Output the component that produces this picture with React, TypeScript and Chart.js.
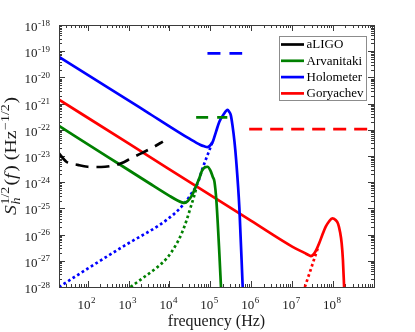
import React, { useEffect, useRef } from "react";
import { Chart, registerables } from "chart.js";

Chart.register(...registerables);

const FONT = "'Liberation Serif', 'Times New Roman', serif";

// ---------- data ----------
const seriesNames = ["aLIGO", "Arvanitaki", "Holometer", "Goryachev"];
const seriesColors = ["#000000", "#008000", "#0000ff", "#ff0000"];

const aligoFreq = [20, 30.2, 57.5, 100, 214, 380, 661, 1150, 2040, 4270, 6920];
const aligoSh = [1.26e-23, 6.03e-24, 4.57e-24, 3.89e-24, 3.8e-24, 4.17e-24, 5.25e-24, 8.13e-24, 1.26e-23, 2.29e-23, 3.55e-23];

const arvFreq = [20, 316, 3160, 10000, 15800, 20000, 23400, 28200, 35500, 40700, 53700, 63100, 74100, 85100, 1.0e5, 1.15e5, 1.26e5, 1.41e5, 1.66e5, 1.82e5];
const arvSh = [1.41e-22, 9.12e-24, 9.33e-25, 3.02e-25, 2.0e-25, 1.7e-25, 1.62e-25, 1.91e-25, 3.16e-25, 5.01e-25, 1.41e-24, 2.82e-24, 3.72e-24, 3.89e-24, 2.82e-24, 1.58e-24, 1.05e-24, 1.82e-25, 1.95e-27, 1.0e-28];
const arvResFreq = [1120, 2510, 5010, 8910, 14100, 20000, 26300, 33100, 39800, 45700];
const arvResSh = [1.0e-28, 2.51e-28, 5.62e-28, 1.32e-27, 3.8e-27, 1.12e-26, 3.55e-26, 1.12e-25, 2.82e-25, 6.31e-25];
const arvTargetFreq = [4.5e4, 2.6e5];
const arvTargetSh = [3.0e-22, 3.0e-22];

const holoFreq = [20, 316, 3160, 31600, 56200, 70800, 85100, 95500, 1.15e5, 1.38e5, 1.66e5, 2.14e5, 2.63e5, 2.88e5, 3.16e5, 3.47e5, 3.89e5, 4.27e5, 5.13e5, 6.17e5];
const holoSh = [6.0e-20, 4.07e-21, 4.27e-22, 4.47e-23, 2.69e-23, 2.34e-23, 2.19e-23, 2.4e-23, 3.55e-23, 8.51e-23, 2.04e-22, 3.98e-22, 5.75e-22, 4.9e-22, 3.63e-22, 1.51e-22, 3.55e-23, 7.08e-24, 1.0e-25, 1.0e-28];
const holoResFreq = [20, 100, 1000, 5750, 13200, 23400, 33900, 49000, 64600, 89100, 1.12e5];
const holoResSh = [1.0e-28, 5.01e-28, 4.68e-27, 2.34e-26, 6.31e-26, 1.58e-25, 3.55e-25, 9.12e-25, 3.39e-24, 1.29e-23, 3.39e-23];
const holoTargetFreq = [8.5e4, 6.0e5];
const holoTargetSh = [8.3e-20, 8.3e-20];

const goryFreq = [20, 1000, 53700, 1.0e6, 1.0e7, 2.0e7, 2.51e7, 2.88e7, 3.31e7, 3.89e7, 4.57e7, 5.5e7, 6.61e7, 7.94e7, 9.55e7, 1.15e8, 1.32e8, 1.48e8, 1.62e8, 1.74e8, 1.86e8];
const gorySh = [1.41e-21, 3.02e-23, 5.89e-25, 3.31e-26, 3.47e-27, 2.0e-27, 1.66e-27, 1.51e-27, 1.74e-27, 2.63e-27, 4.68e-27, 1.0e-26, 2.0e-26, 3.16e-26, 4.17e-26, 3.63e-26, 2.63e-26, 1.26e-26, 4.68e-27, 1.07e-27, 1.0e-28];
const goryResFreq = [2.04e7, 2.82e7, 3.39e7, 4.37e7];
const goryResSh = [1.0e-28, 4.47e-28, 1.07e-27, 3.55e-27];
const goryTargetFreq = [8.9e5, 1.0e9];
const goryTargetSh = [1.07e-22, 1.07e-22];

// axis ranges & tick labels
const xMin = 20;
const xMax = 1e9;
const yMin = 1e-28;
const yMax = 1e-18;
const xTickExponents = [2, 3, 4, 5, 6, 7, 8];
const yTickExponents = [-18, -19, -20, -21, -22, -23, -24, -25, -26, -27, -28];
const xTitle = "frequency (Hz)";

// ---------- helpers ----------
const pts = (xs: number[], ys: number[]) => xs.map((x, i) => ({ x, y: ys[i] }));

const LW = 2.7;
const DASH = [13, 8];
const DOT = [2.7, 2.7];

function ds(xs: number[], ys: number[], color: string, dash: number[] = [], smooth = true) {
  return {
    data: pts(xs, ys),
    borderColor: color,
    backgroundColor: color,
    borderWidth: LW,
    borderDash: dash,
    pointRadius: 0,
    fill: false,
    cubicInterpolationMode: smooth ? "monotone" : "default",
    tension: 0,
  };
}

function drawPow(ctx: CanvasRenderingContext2D, exp: string, anchorX: number, baseY: number, expBaseY: number, align: "center" | "right") {
  ctx.font = `13px ${FONT}`;
  const w1 = ctx.measureText("10").width;
  ctx.font = `9px ${FONT}`;
  const w2 = ctx.measureText(exp).width;
  const total = w1 + w2 + 0.5;
  const left = align === "center" ? anchorX - total / 2 : anchorX - total;
  ctx.textAlign = "left";
  ctx.textBaseline = "alphabetic";
  ctx.fillStyle = "#1a1a1a";
  ctx.font = `13px ${FONT}`;
  ctx.fillText("10", left, baseY);
  ctx.font = `9px ${FONT}`;
  ctx.fillText(exp, left + w1 + 0.5, expBaseY);
}

function drawYTitle(ctx: CanvasRenderingContext2D, cx: number, cy: number, targetLen: number) {
  const big = 17;
  const small = 12;
  type Seg = { t: string; font: string; dy: number; adv: boolean; gap?: number };
  const segs: Seg[] = [
    { t: "S", font: `italic ${big}px ${FONT}`, dy: 0, adv: true, gap: 0.5 },
    { t: "1/2", font: `${small}px ${FONT}`, dy: -7, adv: false },
    { t: "h", font: `italic ${small}px ${FONT}`, dy: 4, adv: true, gap: 1 },
    { t: "(", font: `${big}px ${FONT}`, dy: 0, adv: true },
    { t: "f", font: `italic ${big}px ${FONT}`, dy: 0, adv: true, gap: 1.5 },
    { t: ")", font: `${big}px ${FONT}`, dy: 0, adv: true },
    { t: " (Hz", font: `${big}px ${FONT}`, dy: 0, adv: true, gap: 0.5 },
    { t: "\u22121/2", font: `${small}px ${FONT}`, dy: -7, adv: true, gap: 0.5 },
    { t: ")", font: `${big}px ${FONT}`, dy: 0, adv: true },
  ];
  const widths = segs.map((s) => {
    ctx.font = s.font;
    return ctx.measureText(s.t).width;
  });
  let total = 0;
  let pending = 0;
  segs.forEach((s, i) => {
    if (!s.adv) {
      pending = Math.max(pending, widths[i]);
    } else {
      total += Math.max(pending, widths[i]) + (s.gap || 0);
      pending = 0;
    }
  });
  const sx = targetLen / total;
  ctx.save();
  ctx.translate(cx, cy);
  ctx.rotate(-Math.PI / 2);
  ctx.scale(sx, 1);
  ctx.fillStyle = "#1a1a1a";
  ctx.textAlign = "left";
  ctx.textBaseline = "alphabetic";
  let x = -total / 2;
  pending = 0;
  segs.forEach((s, i) => {
    ctx.font = s.font;
    ctx.fillText(s.t, x, s.dy);
    if (!s.adv) {
      pending = Math.max(pending, widths[i]);
    } else {
      x += Math.max(pending, widths[i]) + (s.gap || 0);
      pending = 0;
    }
  });
  ctx.restore();
}

const axesPlugin = {
  id: "matlabAxes",
  beforeDatasetsDraw(chart: any) {
    const { ctx, chartArea: a, scales } = chart;
    const xs = scales.x;
    const ys = scales.y;
    ctx.save();
    ctx.strokeStyle = "#3a3a3a";
    ctx.lineWidth = 1;
    ctx.beginPath();
    for (let e = 1; e <= 9; e++) {
      for (let m = 1; m <= 9; m++) {
        const v = m * Math.pow(10, e);
        if (v < xMin * 0.999 || v > xMax * 1.001) continue;
        const px = Math.round(xs.getPixelForValue(v)) + 0.5;
        const len = m === 1 ? 6 : 3;
        ctx.moveTo(px, a.bottom);
        ctx.lineTo(px, a.bottom - len);
        ctx.moveTo(px, a.top);
        ctx.lineTo(px, a.top + len);
      }
    }
    for (let e = -28; e <= -18; e++) {
      for (let m = 1; m <= 9; m++) {
        const v = m * Math.pow(10, e);
        if (v < yMin * 0.999 || v > yMax * 1.001) continue;
        const py = Math.round(ys.getPixelForValue(v)) + 0.5;
        const len = m === 1 ? 6 : 3;
        ctx.moveTo(a.left, py);
        ctx.lineTo(a.left + len, py);
        ctx.moveTo(a.right, py);
        ctx.lineTo(a.right - len, py);
      }
    }
    ctx.stroke();
    ctx.restore();
  },
  afterDraw(chart: any) {
    const { ctx, chartArea: a, scales } = chart;
    const xs = scales.x;
    const ys = scales.y;
    ctx.save();
    ctx.strokeStyle = "#3a3a3a";
    ctx.lineWidth = 1;
    ctx.strokeRect(Math.round(a.left) + 0.5, Math.round(a.top) + 0.5, Math.round(a.right - a.left), Math.round(a.bottom - a.top));

    xTickExponents.forEach((e) => {
      const px = xs.getPixelForValue(Math.pow(10, e));
      drawPow(ctx, String(e), px - 1, a.bottom + 22, a.bottom + 16, "center");
    });
    yTickExponents.forEach((e) => {
      const py = ys.getPixelForValue(Math.pow(10, e));
      drawPow(ctx, String(e), a.left - 9, py + 6, py + 0.5, "right");
    });

    ctx.fillStyle = "#1a1a1a";
    ctx.font = `16px ${FONT}`;
    ctx.textAlign = "center";
    ctx.textBaseline = "alphabetic";
    ctx.fillText(xTitle, (a.left + a.right) / 2, a.bottom + 39);

    drawYTitle(ctx, 15.5, (a.top + a.bottom) / 2, 118);

    const lx = 279.5;
    const ly = 36.5;
    const lw = 87;
    const lh = 64;
    ctx.fillStyle = "#ffffff";
    ctx.fillRect(lx, ly, lw, lh);
    ctx.strokeStyle = "#8c8c8c";
    ctx.lineWidth = 1;
    ctx.strokeRect(lx, ly, lw, lh);
    seriesNames.forEach((name, i) => {
      const cy = 44.5 + i * 16.3;
      ctx.strokeStyle = seriesColors[i];
      ctx.lineWidth = LW;
      ctx.setLineDash([]);
      ctx.beginPath();
      ctx.moveTo(281, cy);
      ctx.lineTo(304, cy);
      ctx.stroke();
      ctx.fillStyle = "#000000";
      ctx.font = `13px ${FONT}`;
      ctx.textAlign = "left";
      ctx.textBaseline = "middle";
      ctx.fillText(name, 306.5, cy + 0.5);
    });
    ctx.restore();
  },
};

export default function App() {
  const ref = useRef<HTMLCanvasElement | null>(null);
  useEffect(() => {
    if (!ref.current) return;
    const [cBlack, cGreen, cBlue, cRed] = seriesColors;
    const datasets: any[] = [
      { label: seriesNames[0], ...ds(aligoFreq, aligoSh, cBlack, DASH) },
      { label: seriesNames[1], ...ds(arvFreq, arvSh, cGreen) },
      { label: seriesNames[1] + " resonance", ...ds(arvResFreq, arvResSh, cGreen, DOT) },
      { label: seriesNames[1] + " target", ...ds(arvTargetFreq, arvTargetSh, cGreen, [12, 9], false) },
      { label: seriesNames[2], ...ds(holoFreq, holoSh, cBlue) },
      { label: seriesNames[2] + " resonance", ...ds(holoResFreq, holoResSh, cBlue, DOT) },
      { label: seriesNames[2] + " target", ...ds(holoTargetFreq, holoTargetSh, cBlue, [13, 9], false) },
      { label: seriesNames[3], ...ds(goryFreq, gorySh, cRed) },
      { label: seriesNames[3] + " resonance", ...ds(goryResFreq, goryResSh, cRed, DOT) },
      { label: seriesNames[3] + " target", ...ds(goryTargetFreq, goryTargetSh, cRed, [13, 8], false) },
    ];
    const chart = new Chart(ref.current, {
      type: "line",
      data: { datasets },
      options: {
        animation: false,
        responsive: false,
        devicePixelRatio: 1,
        layout: { padding: { left: 59, right: 41, top: 25, bottom: 45 } },
        plugins: {
          legend: { display: false },
          tooltip: { enabled: false },
          title: { display: false },
        },
        scales: {
          x: { type: "logarithmic", min: xMin, max: xMax, display: false },
          y: { type: "logarithmic", min: yMin, max: yMax, display: false },
        },
        elements: { point: { radius: 0 } },
      } as any,
      plugins: [axesPlugin],
    });
    return () => chart.destroy();
  }, []);
  return (
    <div style={{ position: "fixed", left: 0, top: 0, width: 415, height: 332, background: "#ffffff" }}>
      <canvas ref={ref} width={415} height={332} style={{ display: "block", width: 415, height: 332 }} />
    </div>
  );
}
